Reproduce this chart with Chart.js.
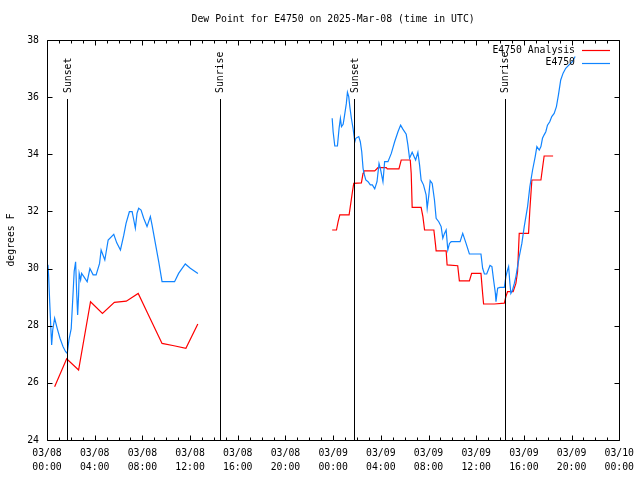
<!DOCTYPE html>
<html><head><meta charset="utf-8">
<script src="https://cdn.jsdelivr.net/npm/chart.js@4/dist/chart.umd.min.js"></script>
<style>html,body{margin:0;padding:0;background:#fff}canvas{display:block}</style>
</head><body>
<canvas id="c" width="640" height="480"></canvas>
<script>
const FONT = "'DejaVu Sans Mono', 'Liberation Mono', monospace";
const FS = 9.8;
const chartTitle = 'Dew Point for E4750 on 2025-Mar-08 (time in UTC)';
const yTitle = 'degrees F';
const dateLabels = ['03/08','03/08','03/08','03/08','03/08','03/08','03/09','03/09','03/09','03/09','03/09','03/09','03/10'];
const timeLabels = ['00:00','04:00','08:00','12:00','16:00','20:00','00:00','04:00','08:00','12:00','16:00','20:00','00:00'];
const yTickValues = [24,26,28,30,32,34,36,38];
const seriesNames = ['E4750 Analysis','E4750'];
const seriesColors = ['#ff0000','#1084ff'];
const eventNames = ['Sunset','Sunrise','Sunset','Sunrise'];
const eventHours = [1.70,14.47,25.78,38.41];

// hours since 03/08 00:00 UTC
const analysisHours1 = [0.64,1.65,2.65,3.65,4.65,5.65,6.65,7.65,8.65,9.65,10.65,11.65,12.65];
const analysisDew1   = [25.86,26.84,26.45,28.84,28.43,28.82,28.86,29.13,28.25,27.38,27.30,27.21,28.06];
const analysisHours2 = [23.92,24.28,24.42,24.56,25.34,25.48,25.62,25.73,26.37,26.51,26.57,27.49,27.76,28.46,28.54,29.52,29.71,30.47,30.55,30.63,31.38,31.53,31.67,32.45,32.59,32.64,33.48,33.56,34.45,34.59,35.43,35.62,36.40,36.54,36.62,37.52,38.36,38.49,38.63,39.10,39.33,39.47,39.61,40.39,40.50,40.67,41.43,41.56,41.70,42.45];
const analysisDew2   = [31.35,31.35,31.64,31.88,31.88,32.28,32.69,32.98,33.00,33.33,33.42,33.42,33.53,33.53,33.49,33.49,33.80,33.80,33.33,32.14,32.14,31.82,31.35,31.35,30.83,30.62,30.62,30.13,30.10,29.57,29.57,29.83,29.83,29.13,28.76,28.76,28.79,29.02,29.19,29.19,29.48,29.89,31.23,31.23,32.05,33.10,33.10,33.51,33.94,33.94];

const stationHours1 = [0.08,0.14,0.23,0.33,0.39,0.48,0.64,0.86,1.09,1.34,1.56,1.70,1.84,2.03,2.20,2.28,2.40,2.48,2.57,2.65,2.70,2.82,2.90,3.09,3.37,3.60,3.87,4.12,4.41,4.54,4.85,5.13,5.60,5.85,6.16,6.44,6.63,6.91,7.14,7.28,7.41,7.55,7.69,7.89,8.11,8.39,8.67,8.81,9.09,9.37,9.65,10.70,11.04,11.60,12.02,12.66];
const stationDew1   = [30.13,29.72,28.80,27.85,27.33,27.85,28.26,27.90,27.56,27.27,27.09,27.03,27.50,27.90,29.25,29.90,30.24,29.25,28.38,29.08,29.83,29.60,29.83,29.72,29.54,30.00,29.78,29.78,30.18,30.65,30.30,31.00,31.20,30.90,30.65,31.17,31.58,31.99,31.99,31.70,31.41,31.93,32.11,32.05,31.76,31.47,31.82,31.53,30.88,30.24,29.54,29.54,29.83,30.16,30.01,29.83];
const stationHours2 = [23.92,24.00,24.14,24.36,24.50,24.61,24.70,24.84,24.92,25.11,25.20,25.31,25.40,25.53,25.67,25.82,25.90,26.15,26.28,26.40,26.51,26.59,26.74,26.93,27.12,27.29,27.49,27.68,27.85,27.96,28.07,28.18,28.32,28.60,28.88,29.16,29.44,29.66,29.85,30.13,30.27,30.41,30.63,30.92,31.11,31.25,31.38,31.58,31.80,31.89,32.03,32.14,32.31,32.50,32.64,32.86,33.06,33.20,33.34,33.48,33.62,33.76,33.90,34.65,34.87,35.15,35.43,36.40,36.54,36.69,36.88,37.16,37.32,37.46,37.61,37.66,37.80,37.99,38.36,38.49,38.63,38.72,38.83,38.91,39.05,39.20,39.33,39.47,39.61,39.83,40.03,40.31,40.50,40.73,40.95,41.09,41.29,41.43,41.56,41.70,41.84,41.98,42.17,42.34,42.54,42.73,42.90,43.09,43.29,43.51,43.79,44.07,44.30];
const stationDew2   = [35.26,34.79,34.29,34.29,34.91,35.26,34.97,35.05,35.26,35.78,36.17,36.02,35.67,35.26,34.91,34.44,34.56,34.62,34.44,34.09,33.51,33.33,33.10,33.04,32.93,32.93,32.79,33.04,33.68,33.51,33.27,33.04,33.74,33.74,34.03,34.44,34.79,35.02,34.88,34.70,34.33,33.86,34.07,33.80,34.07,33.63,33.10,32.93,32.58,32.11,32.58,33.08,32.98,32.40,31.76,31.64,31.47,31.06,31.23,31.35,30.65,30.88,30.94,30.94,31.23,30.88,30.51,30.51,30.01,29.81,29.81,30.11,30.07,29.60,29.13,28.84,29.31,29.34,29.34,29.72,29.95,30.07,29.48,29.13,29.25,29.48,29.72,30.07,30.42,30.88,31.47,32.17,32.86,33.45,33.92,34.27,34.15,34.27,34.56,34.68,34.79,35.02,35.14,35.32,35.43,35.67,36.08,36.60,36.84,37.01,37.13,37.24,37.42];

function pts(hs, vs){ return hs.map((h,i)=>({x:h,y:vs[i]})); }
function joinSegs(a, b){ return a.concat([{x:(a[a.length-1].x+b[0].x)/2, y:null}], b); }

const analysisData = joinSegs(pts(analysisHours1,analysisDew1), pts(analysisHours2,analysisDew2));
const stationData = joinSegs(pts(stationHours1,stationDew1), pts(stationHours2,stationDew2));

const overlay = {
  id:'overlay',
  afterDraw(chart){
    const ctx = chart.ctx, a = chart.chartArea, xs = chart.scales.x, ys = chart.scales.y;
    const L = Math.round(a.left)+0.5, R = Math.round(a.right)+0.5, T = Math.round(a.top)+0.5, B = Math.round(a.bottom)+0.5;
    ctx.save();
    ctx.strokeStyle = '#000'; ctx.lineWidth = 1;
    // event lines
    ctx.beginPath();
    eventHours.forEach(h=>{ const x = Math.round(xs.getPixelForValue(h))+0.5; ctx.moveTo(x, 99); ctx.lineTo(x, B); });
    ctx.stroke();
    ctx.fillStyle = '#000'; ctx.font = FS+'px '+FONT;
    eventHours.forEach((h,i)=>{
      const x = xs.getPixelForValue(h);
      ctx.save(); ctx.translate(x+1, 93); ctx.rotate(-Math.PI/2);
      ctx.textAlign='left'; ctx.textBaseline='middle'; ctx.fillText(eventNames[i],0,0); ctx.restore();
    });
    // border
    ctx.beginPath(); ctx.rect(L, T, R-L, B-T); ctx.stroke();
    // ticks
    ctx.beginPath();
    for(let h=0; h<=48; h++){
      const x = Math.round(xs.getPixelForValue(h))+0.5, len = (h%4===0)?5:3;
      ctx.moveTo(x,B); ctx.lineTo(x,B-len); ctx.moveTo(x,T); ctx.lineTo(x,T+len);
    }
    yTickValues.forEach(v=>{
      const y = Math.round(ys.getPixelForValue(v))+0.5;
      ctx.moveTo(L,y); ctx.lineTo(L+5,y); ctx.moveTo(R,y); ctx.lineTo(R-5,y);
    });
    ctx.stroke();
    // y title
    ctx.save(); ctx.translate(11, (a.top+a.bottom)/2); ctx.rotate(-Math.PI/2);
    ctx.textAlign='center'; ctx.textBaseline='middle'; ctx.fillText(yTitle,0,0); ctx.restore();
    // legend
    seriesNames.forEach((n,i)=>{
      const y = 50 + i*12.5;
      ctx.textAlign='right'; ctx.textBaseline='middle'; ctx.fillStyle='#000';
      ctx.fillText(n, 575, y);
      ctx.strokeStyle = seriesColors[i]; ctx.lineWidth = 1.2;
      ctx.beginPath(); ctx.moveTo(582, Math.round(y)+0.5); ctx.lineTo(610, Math.round(y)+0.5); ctx.stroke();
    });
    ctx.restore();
  }
};

new Chart(document.getElementById('c'), {
  type:'line',
  data:{ datasets:[
    {label:seriesNames[0], data:analysisData, borderColor:seriesColors[0], borderWidth:1.2, pointRadius:0, tension:0, spanGaps:false, order:1},
    {label:seriesNames[1], data:stationData, borderColor:seriesColors[1], borderWidth:1.2, pointRadius:0, tension:0, spanGaps:false, order:0}
  ]},
  options:{
    responsive:false, animation:false, devicePixelRatio:1,
    layout:{padding:{left:0,right:19,top:0,bottom:0}},
    plugins:{
      legend:{display:false}, tooltip:{enabled:false},
      title:{display:true, fullSize:false, text:chartTitle, color:'#000', font:{family:FONT,size:FS,weight:'normal'}, padding:{top:14,bottom:14.24}}
    },
    scales:{
      x:{type:'linear', min:0, max:48,
         grid:{display:false, drawTicks:false}, border:{display:false},
         ticks:{stepSize:4, autoSkip:false, maxRotation:0, minRotation:0, color:'#000', padding:6,
                font:{family:FONT,size:FS,lineHeight:1.43},
                callback:(v)=>{ const i=Math.round(v/4); return [dateLabels[i], timeLabels[i]]; }},
         afterFit:(s)=>{ s.height = 40; }},
      y:{min:24, max:38,
         grid:{display:false, drawTicks:false}, border:{display:false},
         ticks:{stepSize:2, color:'#000', padding:8, font:{family:FONT,size:FS}},
         afterFit:(s)=>{ s.width = 47; }}
    }
  },
  plugins:[overlay]
});
</script>
</body></html>
